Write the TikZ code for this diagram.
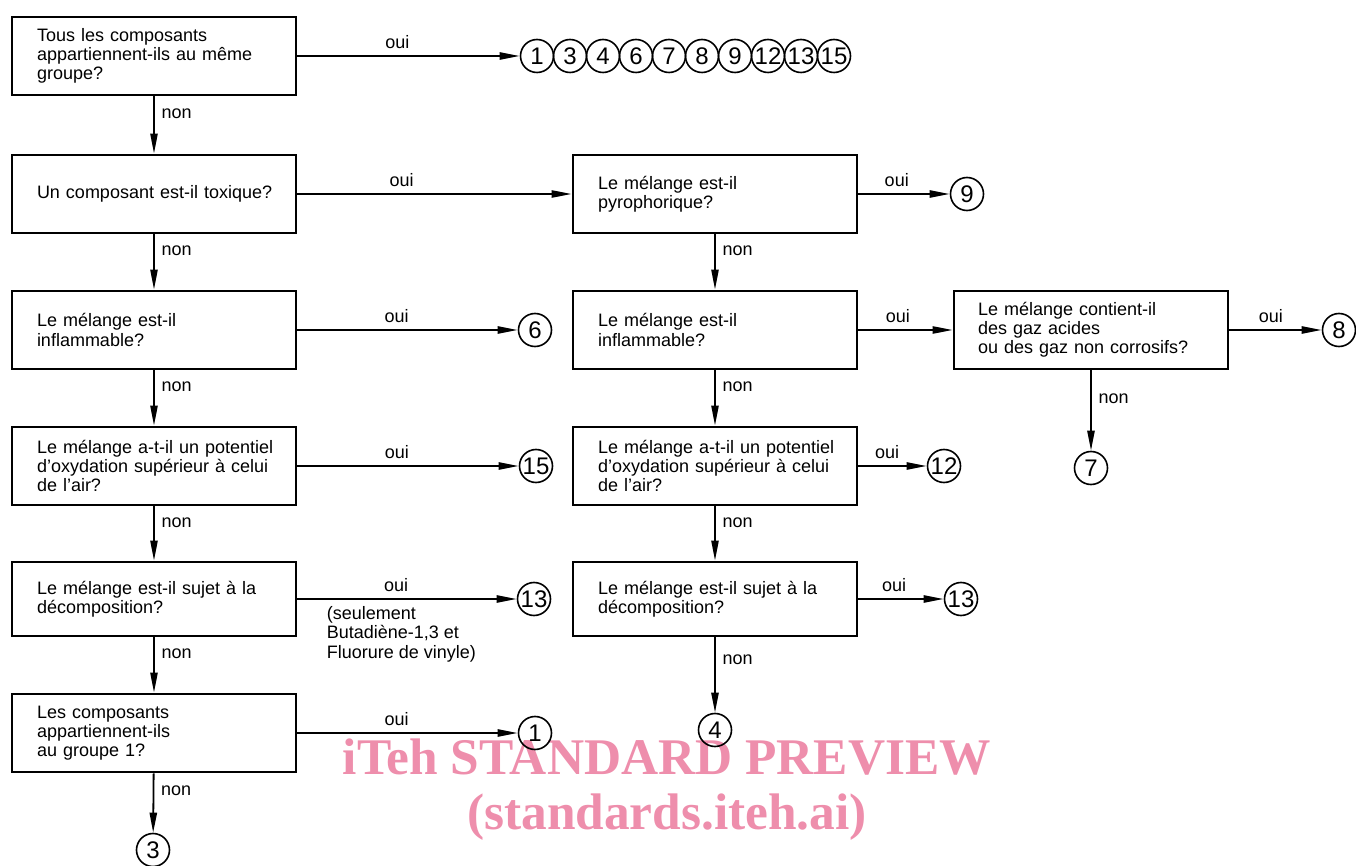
\documentclass[tikz,border=0pt]{standalone}
\usepackage{fontspec}
\setmainfont{Liberation Sans}
\newfontfamily\wmfont{Liberation Serif}
\usetikzlibrary{arrows.meta}
\definecolor{wmpink}{RGB}{238,142,172}

\begin{document}
\begin{tikzpicture}[x=0.5pt, y=-0.5pt, ->, >={Triangle[length=10pt,width=3.6pt]},
  line width=0.9pt, font=\fontsize{9}{9.6}\selectfont,
  question/.style={draw, line width=1.4pt, align=left, text width=129pt,
    inner xsep=6.5pt, minimum height=39pt, execute at begin node={\leftskip=6pt}},
  num/.style={draw, circle, line width=0.8pt, minimum size=16.5pt, inner sep=0pt,
    font=\fontsize{12}{12}\selectfont},
  watermark/.style={text=wmpink, font=\wmfont\bfseries\fontsize{25.7}{30}\selectfont}]
  \useasboundingbox (0, 0) rectangle (1356, 866);

  % watermark, behind the chart
  \node[watermark] (wm-top) at (667, 757) {iTeh STANDARD PREVIEW};
  \node[watermark] (wm-bottom) at (667, 817) {(standards.iteh.ai)};

  % left column
  \node[question] (q-groupe) at (154, 56) {Tous les composants\\appartiennent-ils au même\\groupe?};
  \node[question] (q-toxique) at (154, 194) {Un composant est-il toxique?};
  \node[question] (q-inflam) at (154, 330) {Le mélange est-il\\inflammable?};
  \node[question] (q-oxyd) at (154, 466) {Le mélange a-t-il un potentiel\\d'oxydation supérieur à celui\\de l'air?};
  \node[question, minimum height=37pt] (q-decomp) at (154, 599) {Le mélange est-il sujet à la\\décomposition?};
  \node[question] (q-groupe1) at (154, 733) {Les composants\\appartiennent-ils\\au groupe 1?};

  \foreach \n [count=\i] in {1,3,4,6,7,8,9,12,13,15}
    \node[num] (all-\n) at (537+33*\i-33, 56) {\n};
  \node[num] (n6) at (535, 330) {6};
  \node[num] (n15) at (536, 466) {15};
  \node[num] (n13) at (534, 599) {13};
  \node[num] (n1) at (535, 733) {1};
  \node[num] (n3) at (153, 850) {3};

  % middle column
  \node[question] (m-pyro) at (715, 194) {Le mélange est-il\\pyrophorique?};
  \node[question] (m-inflam) at (715, 330) {Le mélange est-il\\inflammable?};
  \node[question] (m-oxyd) at (715, 466) {Le mélange a-t-il un potentiel\\d'oxydation supérieur à celui\\de l'air?};
  \node[question, minimum height=37pt] (m-decomp) at (715, 599) {Le mélange est-il sujet à la\\décomposition?};

  \node[num] (n9) at (967, 194) {9};
  \node[num] (n12) at (944, 466) {12};
  \node[num] (n13b) at (961, 599) {13};
  \node[num] (n4) at (715, 730) {4};

  % right column
  \node[question, text width=124pt, execute at begin node={\leftskip=5.5pt}] (r-acides) at (1091, 330) {Le mélange contient-il\\des gaz acides\\ou des gaz non corrosifs?};
  \node[num] (n8) at (1339, 330) {8};
  \node[num] (n7) at (1091, 468) {7};

  % oui
  \draw (q-groupe) -- node[pos=.45, above] {oui} (all-1);
  \draw (q-toxique) -- node[pos=.38, above] {oui} (m-pyro);
  \draw (q-inflam) -- node[pos=.45, above] {oui} (n6);
  \draw (q-oxyd) -- node[pos=.45, above] {oui} (n15);
  \draw (q-decomp) -- node[pos=.45, above] {oui}
    node[pos=.1, anchor=north west, align=left] {(seulement\\Butadiène-1,3 et\\Fluorure de vinyle)} (n13);
  \draw (q-groupe1) -- node[pos=.45, above] {oui} (n1);
  \draw (m-pyro) -- node[pos=.42, above] {oui} (n9);
  \draw (m-inflam) -- node[pos=.42, above] {oui} (r-acides);
  \draw (m-oxyd) -- node[pos=.42, above] {oui} (n12);
  \draw (m-decomp) -- node[pos=.42, above] {oui} (n13b);
  \draw (r-acides) -- node[pos=.45, above] {oui} (n8);

  % non
  \draw (q-groupe) -- node[pos=.3, right] {non} (q-toxique);
  \draw (q-toxique) -- node[pos=.3, right] {non} (q-inflam);
  \draw (q-inflam) -- node[pos=.3, right] {non} (q-oxyd);
  \draw (q-oxyd) -- node[pos=.3, right] {non} (q-decomp);
  \draw (q-decomp) -- node[pos=.3, right] {non} (q-groupe1);
  \draw (q-groupe1) -- node[pos=.3, right] {non} (n3);
  \draw (m-pyro) -- node[pos=.3, right] {non} (m-inflam);
  \draw (m-inflam) -- node[pos=.3, right] {non} (m-oxyd);
  \draw (m-oxyd) -- node[pos=.3, right] {non} (m-decomp);
  \draw (m-decomp) -- node[pos=.3, right] {non} (n4);
  \draw (r-acides) -- node[pos=.35, right] {non} (n7);
\end{tikzpicture}
\end{document}
